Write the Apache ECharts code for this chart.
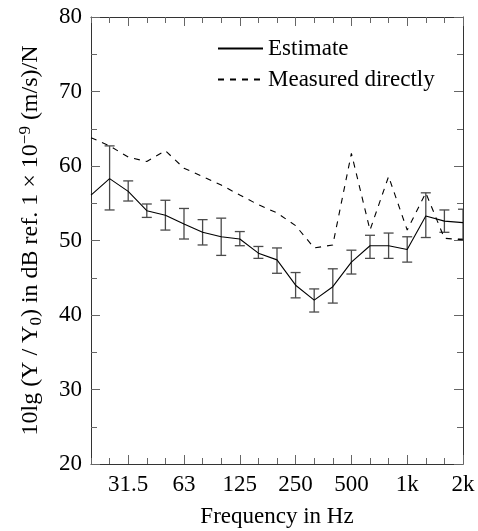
<!DOCTYPE html>
<html lang="en" style="height: 100%">
<head>
    <meta charset="utf-8">
    <title>Frequency response</title>
    <style>
        body { margin: 0; background: #fff; }
        #container { width: 478px; height: 531px; }
    </style>
</head>
<body>
    <div id="container"></div>
    <script src="https://cdn.jsdelivr.net/npm/echarts@6/dist/echarts.min.js"></script>
    <script>
// third-octave bands
const bands = ['20', '25', '31.5', '40', '50', '63', '80', '100', '125', '160', '200',
               '250', '315', '400', '500', '630', '800', '1k', '1.25k', '1.6k', '2k'];
const labelledBands = ['31.5', '63', '125', '250', '500', '1k', '2k'];

// (dB)
const estimate = [56.1, 58.3, 56.6, 54.0, 53.4, 52.2, 51.1, 50.5, 50.2, 48.3, 47.4,
                  44.0, 42.0, 43.8, 47.1, 49.3, 49.3, 48.8, 53.3, 52.6, 52.4];
const errLow  = [null, 54.1, 55.3, 53.1, 51.4, 50.2, 49.4, 48.0, 49.3, 47.6, 45.6,
                 42.3, 40.4, 41.6, 45.5, 47.6, 47.6, 47.1, 50.4, 51.1, 50.2];
const errHigh = [null, 62.7, 58.0, 54.9, 55.4, 54.3, 52.8, 53.0, 51.2, 49.2, 49.0,
                 45.7, 43.5, 46.2, 48.7, 50.7, 51.0, 50.5, 56.4, 54.1, 54.2];
const measured = [63.8, 62.7, 61.2, 60.6, 62.05, 59.7, 58.6, 57.45, 56.1, 54.8, 53.7,
                  52.0, 49.0, 49.4, 61.7, 51.4, 58.6, 51.4, 56.4, 50.3, 50.1];

const FONT = '"Liberation Serif", "DejaVu Serif", serif';
const isLabelled = i => labelledBands.indexOf(bands[i]) >= 0;

const errData = [];
errLow.forEach((v, i) => {
    if (v != null) errData.push([i, v, errHigh[i]]);
});

function xAxisDef(pos, major) {
    return {
        type: 'category',
        data: bands,
        position: pos,
        boundaryGap: false,
        axisLine: { show: major, lineStyle: { color: '#333', width: 1 } },
        axisTick: {
            show: true,
            inside: true,
            length: major ? 9 : 6,
            interval: major ? ((i) => isLabelled(i)) : 0,
            lineStyle: { color: '#666' }
        },
        axisLabel: {
            show: major && pos === 'bottom',
            interval: (i) => isLabelled(i),
            color: '#000',
            fontFamily: FONT,
            fontSize: 23,
            margin: 9
        },
        splitLine: { show: false }
    };
}

function yAxisDef(pos) {
    return {
        type: 'value',
        position: pos,
        min: 20,
        max: 80,
        interval: 10,
        axisLine: { show: true, lineStyle: { color: '#333', width: 1 } },
        axisTick: { show: true, inside: true, length: 9, lineStyle: { color: '#666' } },
        minorTick: { show: true, splitNumber: 2, length: 6, lineStyle: { color: '#666' } },
        axisLabel: {
            show: pos === 'left',
            color: '#000',
            fontFamily: FONT,
            fontSize: 23,
            margin: 9
        },
        splitLine: { show: false }
    };
}

const chart = echarts.init(document.getElementById('container'));

const xMain = xAxisDef('bottom', true);
xMain.name = 'Frequency in Hz';
xMain.nameLocation = 'middle';
xMain.nameGap = 41;
xMain.nameTextStyle = { color: '#000', fontFamily: FONT, fontSize: 23 };

const yMain = yAxisDef('left');
yMain.name = '{n|10lg (Y / Y}{sub|0}{n|) in dB ref. 1 × 10}{sup|−9}{n| (m/s)/N}';
yMain.nameLocation = 'middle';
yMain.nameGap = 46;
yMain.nameTextStyle = {
    color: '#000',
    fontFamily: FONT,
    fontSize: 24,
    rich: {
        n:   { fontFamily: FONT, fontSize: 24, lineHeight: 28, color: '#000' },
        sub: { fontFamily: FONT, fontSize: 17, lineHeight: 16, color: '#000', verticalAlign: 'bottom' },
        sup: { fontFamily: FONT, fontSize: 17, lineHeight: 16, color: '#000', verticalAlign: 'top' }
    }
};

const option = {
    animation: false,
    backgroundColor: '#fff',
    grid: { left: 91, right: 15, top: 17, bottom: 67, outerBoundsMode: 'none' },
    legend: {
        orient: 'vertical',
        left: 217,
        top: 37,
        padding: 0,
        itemWidth: 45,
        itemHeight: 14,
        itemGap: 8,
        data: ['Estimate', 'Measured directly'],
        itemStyle: { opacity: 0 },
        textStyle: { color: '#000', fontFamily: FONT, fontSize: 23, lineHeight: 22 }
    },
    xAxis: [
        xMain,
        xAxisDef('bottom', false),
        xAxisDef('top', true),
        xAxisDef('top', false)
    ],
    yAxis: [
        yMain,
        yAxisDef('right')
    ],
    series: [
        {
            name: 'Estimate',
            type: 'line',
            data: estimate,
            symbol: 'none',
            showSymbol: false,
            lineStyle: { color: '#000', width: 1.1, type: 'solid' },
            itemStyle: { color: '#000' },
            z: 3
        },
        {
            name: 'Measured directly',
            type: 'line',
            data: measured,
            symbol: 'none',
            showSymbol: false,
            lineStyle: { color: '#000', width: 1.1, type: [6, 6] },
            itemStyle: { color: '#000' },
            z: 3
        },
        {
            type: 'custom',
            clip: true,
            data: errData,
            z: 2,
            renderItem: function (params, api) {
                const i = api.value(0);
                const top = api.coord([i, api.value(2)]);
                const bot = api.coord([i, api.value(1)]);
                const w = 5;
                const st = { stroke: '#4a4a4a', lineWidth: 1.3 };
                return {
                    type: 'group',
                    children: [
                        { type: 'line', shape: { x1: top[0], y1: top[1], x2: bot[0], y2: bot[1] }, style: st },
                        { type: 'line', shape: { x1: top[0] - w, y1: top[1], x2: top[0] + w, y2: top[1] }, style: st },
                        { type: 'line', shape: { x1: bot[0] - w, y1: bot[1], x2: bot[0] + w, y2: bot[1] }, style: st }
                    ]
                };
            }
        }
    ]
};

chart.setOption(option);
    </script>
</body>
</html>
